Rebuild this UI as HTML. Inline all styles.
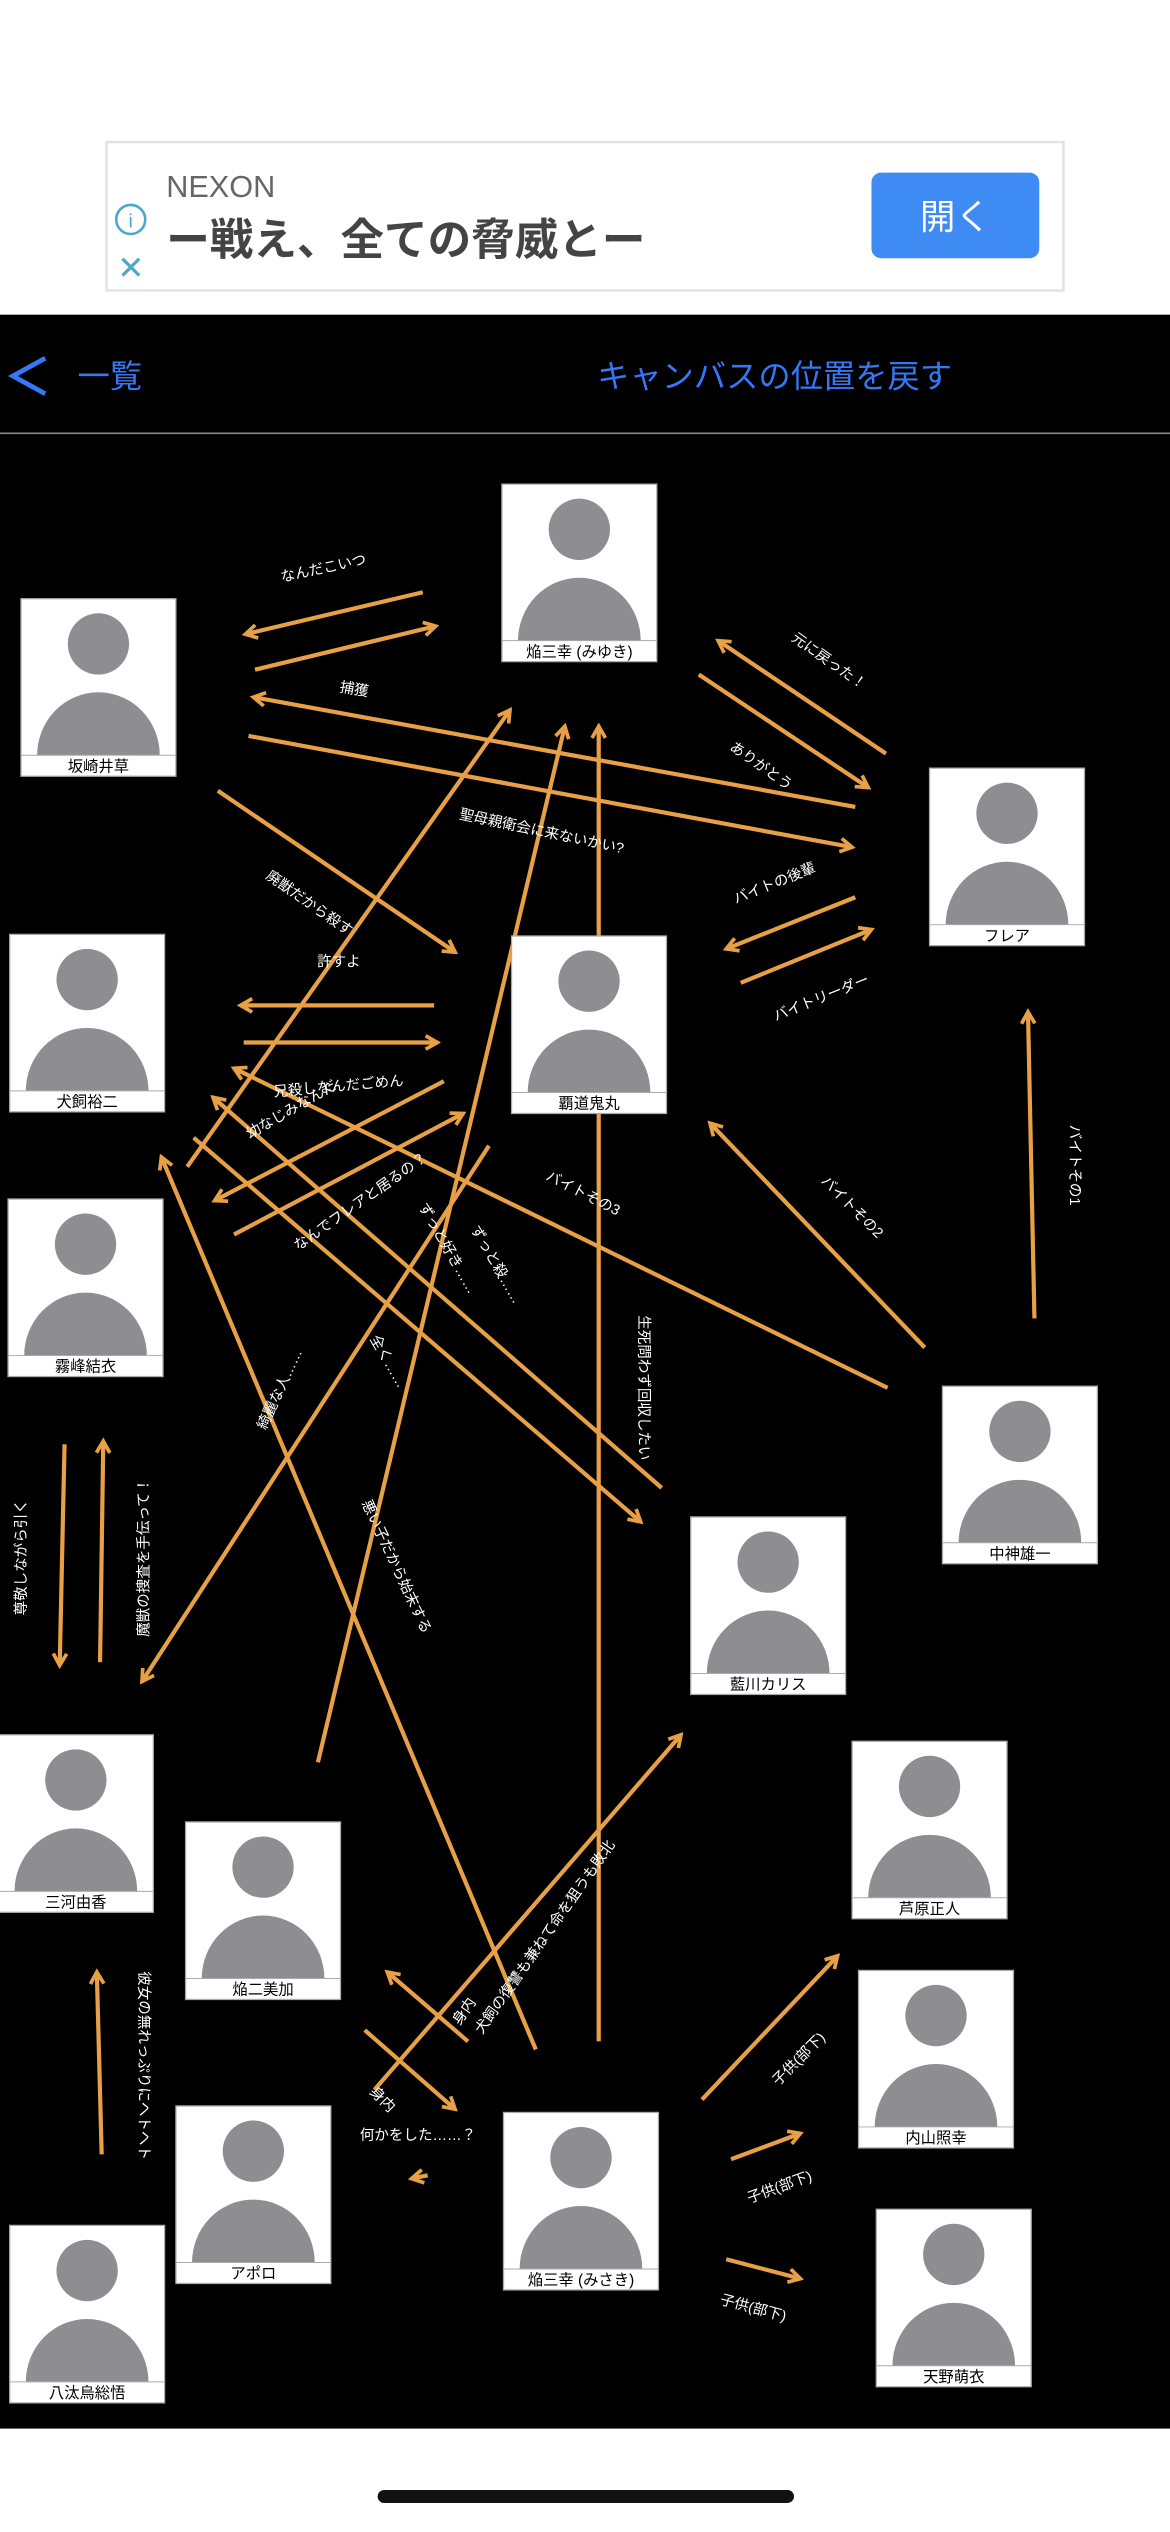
<!DOCTYPE html>
<html><head><meta charset="utf-8">
<style>
html,body{margin:0;padding:0;width:1170px;height:2532px;overflow:hidden;background:#fff;}
svg{display:block;}
text{font-family:"Liberation Sans","Noto Sans CJK JP",sans-serif;}
</style></head>
<body>
<svg width="1170" height="2532" viewBox="0 0 725 1569" preserveAspectRatio="none" xmlns="http://www.w3.org/2000/svg">
<defs>
<marker id="a" viewBox="0 0 10 10" refX="8" refY="5" markerWidth="4" markerHeight="4" orient="auto" markerUnits="strokeWidth">
<path d="M1,1 L8,5 L1,9" fill="none" stroke="#e8a046" stroke-width="2.2"/>
</marker>
<g id="person">
<rect x="0" y="0" width="96" height="110" fill="#fff" stroke="#aaa" stroke-width="0.8"/>
<circle cx="48" cy="28" r="19" fill="#8e8d92"/>
<path d="M10,97 A38,39 0 0 1 86,97 Z" fill="#8e8d92"/>
<line x1="0" y1="97" x2="96" y2="97" stroke="#aaa" stroke-width="0.6"/>
</g>
</defs>
<rect x="0" y="0" width="725" height="195" fill="#fff"/>
<rect x="66" y="88" width="593" height="92" fill="#fff" stroke="#e2e2e2" stroke-width="1.5"/>
<text x="103" y="122" font-size="19" fill="#666">NEXON</text>
<text x="103" y="158" font-size="27" fill="#444" font-weight="bold">ー戦え、全ての脅威とー</text>
<circle cx="81" cy="136" r="9" fill="none" stroke="#4aa8c8" stroke-width="1.6"/>
<text x="81" y="141" font-size="12" fill="#4aa8c8" text-anchor="middle">i</text>
<text x="81" y="173" font-size="20" fill="#4aa8c8" text-anchor="middle">✕</text>
<rect x="540" y="107" width="104" height="53" rx="6" fill="#3e8bf3"/>
<text x="592" y="142" font-size="22" fill="#fff" text-anchor="middle">開く</text>
<rect x="0" y="195" width="725" height="1310" fill="#000"/>
<path d="M28,222 L8,233 L28,244" fill="none" stroke="#3478f6" stroke-width="3"/>
<text x="48" y="240" font-size="20" fill="#3478f6">一覧</text>
<text x="370" y="240" font-size="20" fill="#3478f6">キャンバスの位置を戻す</text>
<line x1="0" y1="268.5" x2="725" y2="268.5" stroke="#888" stroke-width="1"/>
<rect x="0" y="1505" width="725" height="64" fill="#fff"/>
<rect x="234" y="1543" width="258" height="8" rx="4" fill="#111"/>

<g stroke="#e8a046" stroke-width="2.6" fill="none" marker-end="url(#a)">
<line x1="262" y1="367" x2="152" y2="393"/>
<line x1="158" y1="415" x2="270" y2="388"/>
<line x1="530" y1="500" x2="157" y2="432"/>
<line x1="154" y1="456" x2="528" y2="525"/>
<line x1="549" y1="467" x2="445" y2="397"/>
<line x1="433" y1="418" x2="538" y2="488"/>
<line x1="530" y1="556" x2="450" y2="588"/>
<line x1="459" y1="609" x2="540" y2="576"/>
<line x1="135" y1="490" x2="282" y2="590"/>
<line x1="269" y1="623" x2="149" y2="623"/>
<line x1="151" y1="646" x2="271" y2="646"/>
<line x1="550" y1="860" x2="145" y2="662"/>
<line x1="275" y1="670" x2="133" y2="744"/>
<line x1="145" y1="765" x2="287" y2="690"/>
<line x1="116" y1="723" x2="316" y2="440"/>
<line x1="197" y1="1092" x2="350" y2="450"/>
<line x1="371" y1="1265" x2="371" y2="450"/>
<line x1="303" y1="710" x2="88" y2="1042"/>
<line x1="410" y1="922" x2="132" y2="680"/>
<line x1="120" y1="705" x2="397" y2="943"/>
<line x1="573" y1="835" x2="440" y2="696"/>
<line x1="641" y1="817" x2="637" y2="627"/>
<line x1="332" y1="1270" x2="100" y2="717"/>
<line x1="40" y1="895" x2="37" y2="1032"/>
<line x1="62" y1="1030" x2="64" y2="893"/>
<line x1="63" y1="1335" x2="60" y2="1222"/>
<line x1="232" y1="1295" x2="422" y2="1075"/>
<line x1="290" y1="1265" x2="240" y2="1222"/>
<line x1="226" y1="1258" x2="282" y2="1307"/>
<line x1="265" y1="1348" x2="255" y2="1350"/>
<line x1="435" y1="1301" x2="519" y2="1212"/>
<line x1="453" y1="1338" x2="496" y2="1322"/>
<line x1="450" y1="1400" x2="496" y2="1412"/>
</g>

<g font-size="9.5" fill="#000" text-anchor="middle">
<use href="#person" x="311" y="300"/><text x="359" y="407">焔三幸 (みゆき)</text>
<use href="#person" x="13" y="371"/><text x="61" y="478">坂崎井草</text>
<use href="#person" x="576" y="476"/><text x="624" y="583">フレア</text>
<use href="#person" x="6" y="579"/><text x="54" y="686">犬飼裕二</text>
<use href="#person" x="317" y="580"/><text x="365" y="687">覇道鬼丸</text>
<use href="#person" x="5" y="743"/><text x="53" y="850">霧峰結衣</text>
<use href="#person" x="584" y="859"/><text x="632" y="966">中神雄一</text>
<use href="#person" x="428" y="940"/><text x="476" y="1047">藍川カリス</text>
<use href="#person" x="-1" y="1075"/><text x="47" y="1182">三河由香</text>
<use href="#person" x="528" y="1079"/><text x="576" y="1186">芦原正人</text>
<use href="#person" x="115" y="1129"/><text x="163" y="1236">焔二美加</text>
<use href="#person" x="532" y="1221"/><text x="580" y="1328">内山照幸</text>
<use href="#person" x="109" y="1305"/><text x="157" y="1412">アポロ</text>
<use href="#person" x="312" y="1309"/><text x="360" y="1416">焔三幸 (みさき)</text>
<use href="#person" x="6" y="1379"/><text x="54" y="1486">八汰烏総悟</text>
<use href="#person" x="543" y="1369"/><text x="591" y="1476">天野萌衣</text>
</g>

<g font-size="9" fill="#fff" text-anchor="middle">
<text transform="translate(201,355) rotate(-12)">なんだこいつ</text>
<text transform="translate(219,430) rotate(10)">捕獲</text>
<text transform="translate(335,518) rotate(12)">聖母親衛会に来ないかい?</text>
<text transform="translate(512,412) rotate(35)">元に戻った！</text>
<text transform="translate(470,477) rotate(35)">ありがとう</text>
<text transform="translate(481,550) rotate(-22)">バイトの後輩</text>
<text transform="translate(510,621) rotate(-22)">バイトリーダー</text>
<text transform="translate(190,562) rotate(35)">廃獣だから殺す</text>
<text x="210" y="599">許すよ</text>
<text x="210" y="676" transform="rotate(-5 210 676)">兄殺しなんだごめん</text>
<text transform="translate(182,690) rotate(-30)">幼なじみなんだ</text>
<text transform="translate(225,747) rotate(-35)">なんでフレアと居るの？</text>
<text transform="translate(275,775) rotate(60)">ずっと好き……</text>
<text transform="translate(305,785) rotate(60)">ずっと殺……</text>
<text transform="translate(360,742) rotate(27)">バイトその3</text>
<text transform="translate(526,750) rotate(45)">バイトその2</text>
<text transform="translate(663,722) rotate(90)">バイトその1</text>
<text transform="translate(396,860) rotate(90)">生死問わず回収したい</text>
<text transform="translate(238,845) rotate(60)">全く……</text>
<text transform="translate(176,862) rotate(-65)">綺麗な人……</text>
<text transform="translate(243,972) rotate(65)">悪い子だから始末する</text>
<text transform="translate(16,965) rotate(-90)">尊敬しながら引く</text>
<text transform="translate(92,965) rotate(-90)">魔獣の捜査を手伝って！</text>
<text transform="translate(86,1280) rotate(90)">彼女の無れっぷりにヘトヘト</text>
<text transform="translate(290,1248) rotate(-55)">身内</text>
<text transform="translate(340,1202) rotate(-55)">犬飼の復讐も兼ねて命を狙うも敗北</text>
<text transform="translate(235,1303) rotate(45)">身内</text>
<text x="259" y="1326">何かをした……？</text>
<text transform="translate(497,1278) rotate(-45)">子供(部下)</text>
<text transform="translate(484,1358) rotate(-20)">子供(部下)</text>
<text transform="translate(466,1433) rotate(15)">子供(部下)</text>
</g>
</svg>
</body></html>
